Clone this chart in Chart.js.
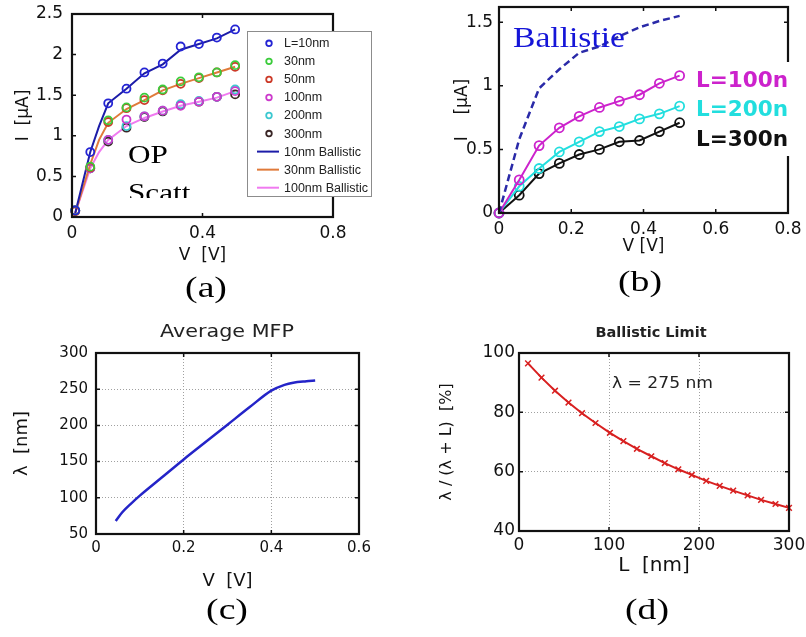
<!DOCTYPE html>
<html>
<head>
<meta charset="utf-8">
<script src="https://cdn.jsdelivr.net/npm/chart.js@4.4.0/dist/chart.umd.min.js"></script>
<style>
html, body { margin: 0; padding: 0; background: #fff; }
#wrap { position: relative; width: 806px; height: 637px; overflow: hidden; }
canvas { position: absolute; }
</style>
</head>
<body>
<div id="wrap">
  <canvas id="chA"></canvas>
  <canvas id="chB"></canvas>
  <canvas id="chC"></canvas>
  <canvas id="chD"></canvas>
</div>
<script>
// --- (a) I-V with OP scattering, circles = simulation, lines = ballistic ---
const vA = [0.01, 0.056, 0.111, 0.167, 0.222, 0.278, 0.333, 0.389, 0.444, 0.5];
const iA10  = [0.08, 0.80, 1.40, 1.58, 1.78, 1.89, 2.10, 2.13, 2.21, 2.31];
const iA30  = [0.08, 0.62, 1.19, 1.35, 1.47, 1.57, 1.67, 1.72, 1.78, 1.87];
const iA50  = [0.07, 0.61, 1.17, 1.34, 1.44, 1.56, 1.64, 1.71, 1.78, 1.85];
const iA100 = [0.08, 0.60, 0.95, 1.20, 1.24, 1.31, 1.37, 1.42, 1.48, 1.55];
const iA200 = [0.08, 0.60, 0.95, 1.12, 1.24, 1.31, 1.39, 1.43, 1.48, 1.57];
const iA300 = [0.08, 0.60, 0.93, 1.10, 1.23, 1.30, 1.38, 1.42, 1.48, 1.51];
const vAL = [0.01, 0.056, 0.083, 0.111, 0.167, 0.222, 0.278, 0.333, 0.389, 0.444, 0.5];
const iBal10  = [0.05, 0.80, 1.12, 1.40, 1.58, 1.77, 1.88, 2.06, 2.13, 2.20, 2.31];
const iBal30  = [0.05, 0.65, 0.95, 1.16, 1.33, 1.44, 1.56, 1.64, 1.71, 1.78, 1.85];
const iBal100 = [0.05, 0.60, 0.80, 0.95, 1.12, 1.22, 1.30, 1.37, 1.42, 1.47, 1.55];
const xTicksA = [0, 0.4, 0.8];
const yTicksA = [0, 0.5, 1, 1.5, 2, 2.5];

// --- (b) I-V for long channels vs ballistic ---
const vB = [0, 0.056, 0.111, 0.167, 0.222, 0.278, 0.333, 0.389, 0.444, 0.5];
const iB100 = [0, 0.26, 0.53, 0.67, 0.76, 0.83, 0.88, 0.93, 1.02, 1.08];
const iB200 = [0, 0.21, 0.35, 0.48, 0.56, 0.64, 0.68, 0.74, 0.78, 0.84];
const iB300 = [0, 0.14, 0.31, 0.39, 0.46, 0.50, 0.56, 0.57, 0.64, 0.71];
const iBBal = [0, 0.58, 0.98, 1.13, 1.26, 1.31, 1.39, 1.46, 1.51, 1.55];
const xTicksB = [0, 0.2, 0.4, 0.6, 0.8];
const yTicksB = [0, 0.5, 1, 1.5];

// --- (c) average mean free path ---
const vC = [0.045, 0.06, 0.08, 0.1, 0.15, 0.2, 0.25, 0.3, 0.35, 0.4, 0.43, 0.45, 0.48, 0.5];
const mfpC = [68, 80, 92, 103, 128, 153, 177, 201, 225, 248, 256, 259, 261, 262];
const xTicksC = [0, 0.2, 0.4, 0.6];
const yTicksC = [50, 100, 150, 200, 250, 300];

// --- (d) ballistic limit ---
const lenD = [10, 25, 40, 55, 70, 85, 101, 116, 131, 147, 162, 177, 192, 208, 223, 238, 254, 269, 285, 300];
const pctD = [96.5, 91.7, 87.3, 83.3, 79.7, 76.4, 73.1, 70.3, 67.7, 65.2, 62.9, 60.8, 58.9, 56.9, 55.2, 53.6, 52.0, 50.5, 49.1, 47.8];
const xTicksD = [0, 100, 200, 300];
const yTicksD = [40, 60, 80, 100];

const SANS = "'DejaVu Sans', sans-serif";
const SERIF = "'Liberation Serif', 'Times New Roman', serif";
Chart.defaults.font.family = SANS;
Chart.defaults.color = '#111';

function pts(xs, ys) {
    return xs.map((x, i) => ({ x: x, y: ys[i] }));
}

// text helper, sx stretches glyphs sideways like the scanned figure
function txt(ctx, s, x, y, font, color, align, sx) {
    sx = sx || 1;
    ctx.save();
    ctx.font = font;
    ctx.fillStyle = color || '#000';
    ctx.textBaseline = 'alphabetic';
    ctx.textAlign = 'left';
    const w = ctx.measureText(s).width * sx;
    let x0 = x;
    if (align === 'center') x0 = x - w / 2;
    else if (align === 'right') x0 = x - w;
    ctx.translate(x0, y);
    ctx.scale(sx, 1);
    ctx.fillText(s, 0, 0);
    ctx.restore();
}

function axis(min, max, tickArr, size, fontPx, pad, title, titlePx, titlePad, grid) {
    return {
        type: 'linear', min: min, max: max,
        afterBuildTicks: s => { s.ticks = tickArr.map(v => ({ value: v })); },
        afterFit: s => {
            if (s.isHorizontal()) s.height = size; else s.width = size;
            s.paddingLeft = s.paddingRight = s.paddingTop = s.paddingBottom = 0;
        },
        ticks: { padding: pad, color: '#111', font: { family: SANS, size: fontPx },
                 callback: v => String(v), maxRotation: 0, autoSkip: false },
        grid: grid ? { display: true, drawTicks: false, color: '#a0a0a0', lineWidth: 1 }
                   : { display: false, drawTicks: false },
        border: { display: false, dash: [1, 2] },
        title: { display: true, text: title, color: '#111', font: { family: SANS, size: titlePx }, padding: titlePad }
    };
}

// black box + inward MATLAB tick marks
const framePlugin = {
    id: 'frame',
    afterDatasetsDraw(chart) {
        const { ctx, chartArea: a, scales } = chart;
        ctx.save();
        ctx.strokeStyle = '#111';
        ctx.lineWidth = 1.5;
        ctx.beginPath();
        scales.x.ticks.forEach(t => {
            const p = scales.x.getPixelForValue(t.value);
            ctx.moveTo(p, a.bottom); ctx.lineTo(p, a.bottom - 4);
            ctx.moveTo(p, a.top); ctx.lineTo(p, a.top + 4);
        });
        scales.y.ticks.forEach(t => {
            const p = scales.y.getPixelForValue(t.value);
            ctx.moveTo(a.left, p); ctx.lineTo(a.left + 4, p);
            ctx.moveTo(a.right, p); ctx.lineTo(a.right - 4, p);
        });
        ctx.stroke();
        ctx.lineWidth = 2.2;
        ctx.strokeRect(a.left, a.top, a.right - a.left, a.bottom - a.top);
        ctx.restore();
    }
};

function makeChart(id, box, area, datasets, xAx, yAx, extra) {
    const cv = document.getElementById(id);
    cv.width = box.w; cv.height = box.h;
    cv.style.left = box.x + 'px'; cv.style.top = box.y + 'px';
    return new Chart(cv, {
        type: 'scatter',
        data: { datasets: datasets },
        options: {
            responsive: false, animation: false, events: [],
            layout: { padding: { left: 0, bottom: 0, top: area.t - box.y, right: box.x + box.w - area.r } },
            plugins: { legend: { display: false }, tooltip: { enabled: false } },
            scales: { x: xAx, y: yAx }
        },
        plugins: [framePlugin, {
            id: 'extra' + id,
            afterDraw(chart) {
                const ctx = chart.ctx;
                ctx.save();
                ctx.translate(-box.x, -box.y);
                extra(ctx, chart);
                ctx.restore();
            }
        }]
    });
}

function circles(label, xs, ys, color, r) {
    return { label: label, data: pts(xs, ys), showLine: false, pointStyle: 'circle',
             pointRadius: r, pointBorderWidth: 1.8, borderColor: color,
             pointBackgroundColor: 'rgba(0,0,0,0)', clip: false };
}
function line(label, xs, ys, color, w) {
    return { label: label, data: pts(xs, ys), showLine: true, borderColor: color, borderWidth: w,
             pointRadius: 0, clip: false };
}

// ---------- (a) ----------
const boxA = { x: 0, y: 0, w: 400, h: 310 };
const dsA = [
    circles('L=10nm', vA, iA10, '#2424d4', 4),
    circles('30nm', vA, iA30, '#3ccc3c', 4),
    circles('50nm', vA, iA50, '#cc3a28', 4),
    circles('100nm', vA, iA100, '#cc3acc', 4),
    circles('200nm', vA, iA200, '#3cc8d0', 4),
    circles('300nm', vA, iA300, '#3a2626', 4),
    line('10nm Ballistic', vAL, iBal10, '#1c1ca8', 2),
    line('30nm Ballistic', vAL, iBal30, '#e07a3a', 2),
    line('100nm Ballistic', vAL, iBal100, '#f07af0', 2)
];
makeChart('chA', boxA, { t: 14, r: 333 }, dsA,
    axis(0, 0.8, xTicksA, 93, 17, 6, 'V  [V]', 17, { top: 0, bottom: 43.8 }, false),
    axis(0, 2.5, yTicksA, 72, 17, 9, 'I  [μA]', 17, { top: 13.8, bottom: 0 }, false),
    (ctx, chart) => {
        // "OP Scatt." label, cut off at the bottom as in the figure
        ctx.save();
        ctx.beginPath(); ctx.rect(100, 120, 140, 78); ctx.clip();
        txt(ctx, 'OP', 128, 163, '26px ' + SERIF, '#000', 'left', 1.2);
        txt(ctx, 'Scatt.', 128, 201, '26px ' + SERIF, '#000', 'left', 1.2);
        ctx.restore();
        // legend box
        ctx.fillStyle = '#fff';
        ctx.fillRect(247, 31, 125, 166);
        ctx.strokeStyle = '#8c8c8c'; ctx.lineWidth = 1;
        ctx.strokeRect(247.5, 31.5, 124, 165);
        chart.data.datasets.forEach((d, i) => {
            const y = 43.3 + i * 18.05;
            ctx.strokeStyle = d.borderColor;
            if (d.showLine) {
                ctx.lineWidth = 2;
                ctx.beginPath(); ctx.moveTo(257, y); ctx.lineTo(279, y); ctx.stroke();
            } else {
                ctx.lineWidth = 1.8;
                ctx.beginPath(); ctx.arc(269, y, 2.8, 0, Math.PI * 2); ctx.stroke();
            }
            ctx.save();
            ctx.font = '12.5px "Liberation Sans", Arial, sans-serif';
            ctx.fillStyle = '#222'; ctx.textBaseline = 'middle';
            ctx.fillText(d.label, 284, y + 0.5);
            ctx.restore();
        });
        txt(ctx, '(a)', 206, 297, '29px ' + SERIF, '#000', 'center', 1.3);
    });

// ---------- (b) ----------
const boxB = { x: 400, y: 0, w: 406, h: 310 };
const dsB = [
    line('Ballistic', vB, iBBal, '#2a2aa8', 2.5),
    Object.assign(line('L=100n', vB, iB100, '#cc22cc', 2), { pointRadius: 4.5, pointBorderWidth: 1.8, pointBackgroundColor: 'rgba(0,0,0,0)' }),
    Object.assign(line('L=200n', vB, iB200, '#22dede', 2), { pointRadius: 4.5, pointBorderWidth: 1.8, pointBackgroundColor: 'rgba(0,0,0,0)' }),
    Object.assign(line('L=300n', vB, iB300, '#111111', 2), { pointRadius: 4.5, pointBorderWidth: 1.8, pointBackgroundColor: 'rgba(0,0,0,0)' })
];
dsB[0].borderDash = [7, 4];
makeChart('chB', boxB, { t: 7, r: 788 }, dsB,
    axis(0, 0.8, xTicksB, 97, 17, 6, 'V [V]', 17, { top: 0, bottom: 52.8 }, false),
    axis(0, 1.62, yTicksB, 99, 17, 6, 'I    [μA]', 17, { top: 52.8, bottom: 0 }, false),
    (ctx, chart) => {
        txt(ctx, 'Ballistie', 513, 47, '30px ' + SERIF, '#1515d8', 'left', 1.12);
        ctx.fillStyle = '#fff';
        ctx.fillRect(692, 62, 110, 94);
        const ys = [87, 116, 146];
        chart.data.datasets.slice(1).forEach((d, i) => {
            txt(ctx, d.label, 696, ys[i], 'bold 22px ' + SANS, d.borderColor, 'left', 0.98);
        });
        txt(ctx, '(b)', 640, 290.5, '29px ' + SERIF, '#000', 'center', 1.3);
    });

// ---------- (c) ----------
const boxC = { x: 0, y: 310, w: 400, h: 327 };
const dsC = [Object.assign(line('MFP', vC, mfpC, '#2424c8', 2.5), { cubicInterpolationMode: 'monotone' })];
makeChart('chC', boxC, { t: 353, r: 359 }, dsC,
    axis(0, 0.6, xTicksC, 103, 15, 5.5, 'V  [V]', 18, { top: 0, bottom: 45.2 }, true),
    axis(50, 300, yTicksC, 96, 15, 8, 'λ  [nm]', 18, { top: 11.2, bottom: 0 }, true),
    (ctx) => {
        txt(ctx, 'Average MFP', 227, 337, '18px ' + SANS, '#222', 'center', 1.15);
        txt(ctx, '(c)', 227, 619, '29px ' + SERIF, '#000', 'center', 1.3);
    });

// ---------- (d) ----------
const boxD = { x: 400, y: 310, w: 406, h: 327 };
const dsD = [Object.assign(line('ratio', lenD, pctD, '#d82020', 2),
    { pointStyle: 'crossRot', pointRadius: 4, pointBorderWidth: 1.5 })];
makeChart('chD', boxD, { t: 353, r: 789 }, dsD,
    axis(0, 300, xTicksD, 106, 17, 4, 'L  [nm]', 20, { top: 0, bottom: 59 }, true),
    axis(40, 100, yTicksD, 119, 17, 4, 'λ / (λ + L)  [%]', 16, { top: 37.4, bottom: 0 }, true),
    (ctx) => {
        txt(ctx, 'Ballistic Limit', 651, 337, 'bold 14.5px ' + SANS, '#222', 'center', 1);
        txt(ctx, 'λ = 275 nm', 612, 388, '16px ' + SANS, '#222', 'left', 1.07);
        txt(ctx, '(d)', 647, 619, '29px ' + SERIF, '#000', 'center', 1.3);
    });
</script>
</body>
</html>
